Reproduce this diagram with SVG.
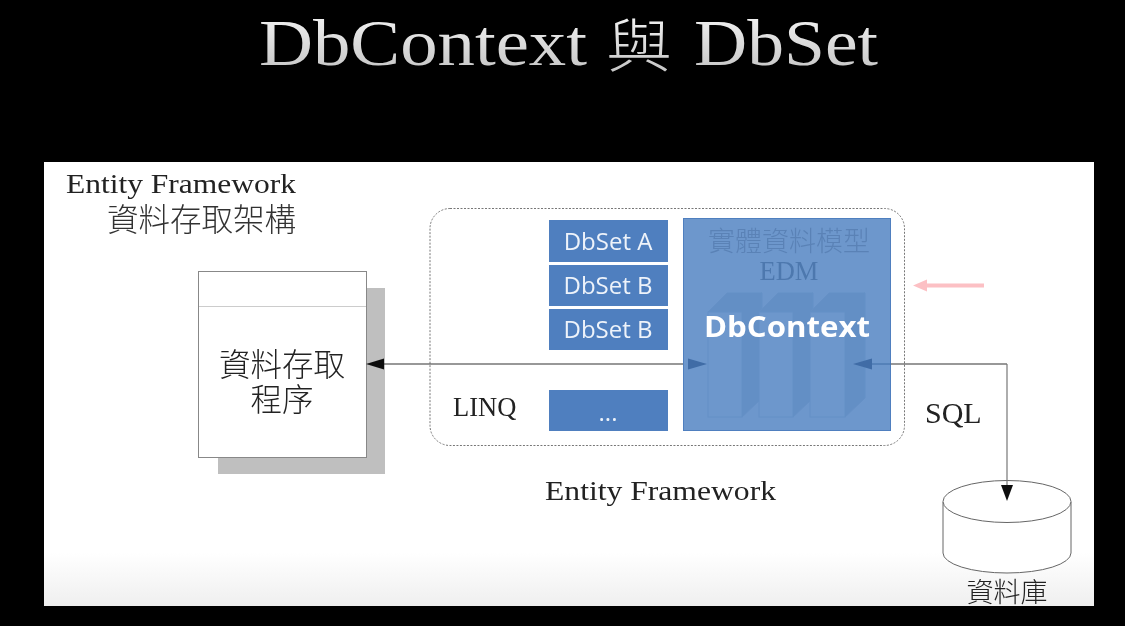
<svg xmlns="http://www.w3.org/2000/svg" width="1125" height="626" viewBox="0 0 1125 626">
<style>
.s{font-family:"Liberation Serif","Noto Sans CJK TC",serif}
.k{font-family:"Liberation Serif","Noto Sans CJK TC",serif;font-weight:300}
.d{font-family:"Open Sans","Noto Sans",sans-serif;fill:#eef3fa;font-size:24px;text-anchor:middle}
.b{fill:#4f7fbf}
.col{fill:#6d97cc;stroke:#6590c6;stroke-width:1}
.cols{fill:#648fc5;stroke:#6590c6;stroke-width:1}
.l{stroke:#333;stroke-width:1.200;fill:none}
</style>
<defs>
<linearGradient id="bg" x1="0" y1="0" x2="0" y2="1"><stop offset="0" stop-color="#fff"/><stop offset=".88" stop-color="#fff"/><stop offset="1" stop-color="#efefef"/></linearGradient>
<linearGradient id="tg" gradientUnits="userSpaceOnUse" x1="0" y1="17" x2="0" y2="74"><stop offset="0" stop-color="#f0f0f0"/><stop offset="1" stop-color="#c4c4c4"/></linearGradient>
<filter id="soft" x="0" y="0" width="100%" height="100%"><feGaussianBlur stdDeviation="0.45"/></filter>
</defs>
<rect width="1125" height="626" fill="#000"/>
<g filter="url(#soft)">
<g id="title" fill="url(#tg)">
<text class="s" x="259" y="65" font-size="66" textLength="328" lengthAdjust="spacingAndGlyphs">DbContext</text>
<text class="k" x="606" y="67" font-size="58" textLength="66" lengthAdjust="spacingAndGlyphs">與</text>
<text class="s" x="694" y="65" font-size="66" textLength="184" lengthAdjust="spacingAndGlyphs">DbSet</text>
</g>
<rect x="44" y="162" width="1050" height="444" fill="url(#bg)"/>
<text class="s" x="66" y="193" font-size="28" fill="#222" textLength="230" lengthAdjust="spacingAndGlyphs">Entity Framework</text>
<text class="k" x="107" y="231" font-size="31.500" fill="#333">資料存取架構</text>
<g id="program">
<rect x="218" y="288" width="167" height="186" fill="#bfbfbf"/>
<rect x="198.500" y="271.500" width="168" height="186" fill="#fff" stroke="#888"/>
<line x1="199" y1="306.500" x2="366" y2="306.500" stroke="#ccc"/>
<text class="k" x="282" y="376" font-size="31.500" fill="#222" text-anchor="middle">資料存取</text>
<text class="k" x="282" y="411" font-size="31.500" fill="#222" text-anchor="middle">程序</text>
</g>
<g id="ef-frame">
<rect x="430" y="208.500" width="474.500" height="237" rx="20" fill="none" stroke="#777" stroke-dasharray="2 1.500"/>
<text class="s" x="453" y="416" font-size="26.500" fill="#222">LINQ</text>
<text class="s" x="545" y="500" font-size="28" fill="#222" textLength="231" lengthAdjust="spacingAndGlyphs">Entity Framework</text>
</g>
<g id="connectors">
<line class="l" x1="380" y1="364" x2="695" y2="364"/>
<path d="M366 364l18-5.500v11z" fill="#111"/>
<path d="M860 364H1007" stroke="#333" stroke-width="1.200" fill="none"/>
</g>
<g id="dbset-a"><rect class="b" x="549" y="220" width="119" height="42"/><text class="d" x="608" y="250">DbSet A</text></g>
<g id="dbset-b1"><rect class="b" x="549" y="265" width="119" height="41"/><text class="d" x="608" y="294">DbSet B</text></g>
<g id="dbset-b2"><rect class="b" x="549" y="309" width="119" height="41"/><text class="d" x="608" y="338">DbSet B</text></g>
<g id="dbset-more"><rect class="b" x="549" y="390" width="119" height="41"/><text class="d" x="608" y="421">...</text></g>
<g id="dbcontext">
<rect x="683.500" y="218.500" width="207" height="212" fill="#6d97cc" stroke="#4f7fbf"/>
<text class="k" x="789" y="251" font-size="27" fill="#5a82b6" text-anchor="middle">實體資料模型</text>
<text class="s" x="789" y="280" font-size="26.500" fill="#4e78ae" text-anchor="middle">EDM</text>
<path class="cols" d="M708 312l19-19h35l-20 19zM742 312l20-19v105l-20 19z"/><rect class="col" x="708" y="312" width="34" height="105"/>
<path class="cols" d="M759 312l19-19h35l-20 19zM793 312l20-19v105l-20 19z"/><rect class="col" x="759" y="312" width="34" height="105"/>
<path class="cols" d="M810 312l19-19h36l-20 19zM845 312l20-19v105l-20 19z"/><rect class="col" x="810" y="312" width="35" height="105"/>
<text x="787" y="337" font-family="Open Sans,Noto Sans,sans-serif" font-weight="700" font-size="28" fill="#fff" text-anchor="middle" textLength="166" lengthAdjust="spacingAndGlyphs">DbContext</text>
<path d="M707 364l-19-5.500v11z" fill="#3f6ca6"/>
<path d="M853 364l19-5.500v11z" fill="#3f6ca6"/>
<line x1="872" y1="364" x2="891" y2="364" stroke="#3f6ca6"/>
</g>
<g id="pink-arrow">
<line x1="925" y1="285.500" x2="984" y2="285.500" stroke="#fcc0c4" stroke-width="4"/>
<path d="M913 285.500l14-6v12z" fill="#fcc0c4"/>
</g>
<text class="s" x="925" y="423" font-size="30" fill="#222">SQL</text>
<g id="database">
<path d="M943 502V553A64 20 0 0 0 1071 553V502" fill="#fff" stroke="#666"/>
<ellipse cx="1007" cy="501.500" rx="64" ry="21" fill="#fff" stroke="#666"/>
<path d="M1007 364V488" stroke="#777" stroke-width="1.200"/>
<path d="M1007 501l-6-16h12z" fill="#111"/>
<text class="k" x="1007" y="602" font-size="27" fill="#222" text-anchor="middle">資料庫</text>
</g>
</g>
</svg>
